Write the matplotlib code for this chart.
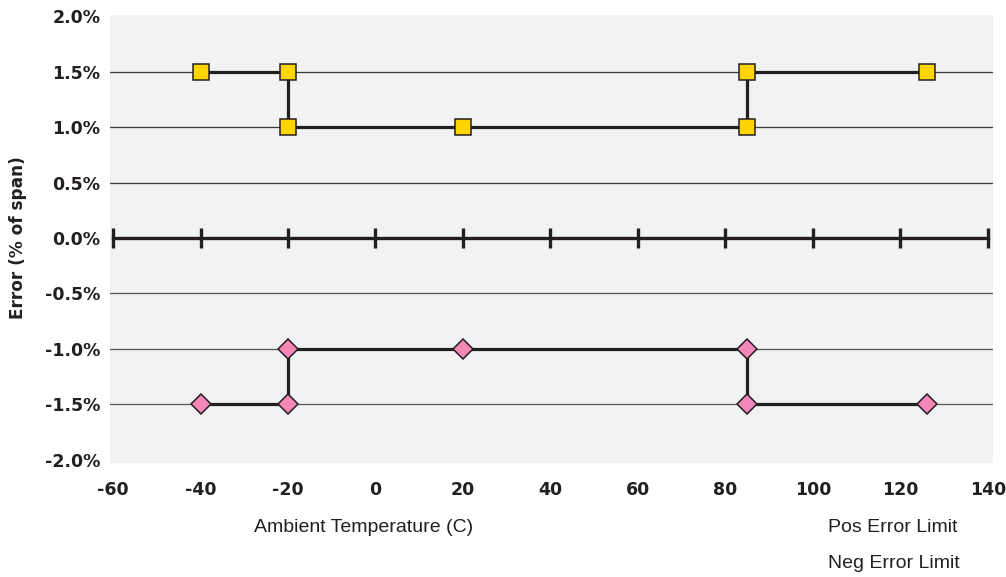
import matplotlib.pyplot as plt

plt.rcParams['axes.unicode_minus'] = False

# temperature (C) vs error limit (% of span)
pos_temp = [-40, -20, -20, 20, 85, 85, 126]
pos_err = [1.5, 1.5, 1.0, 1.0, 1.0, 1.5, 1.5]
neg_temp = [-40, -20, -20, 20, 85, 85, 126]
neg_err = [-1.5, -1.5, -1.0, -1.0, -1.0, -1.5, -1.5]

x_ticks = [-60, -40, -20, 0, 20, 40, 60, 80, 100, 120, 140]
y_ticks = [-2.0, -1.5, -1.0, -0.5, 0.0, 0.5, 1.0, 1.5, 2.0]
y_labels = ['%.1f%%' % v for v in y_ticks]

dark = '#231f20'
plain = ['Liberation Sans', 'DejaVu Sans']

fig = plt.figure(figsize=(10.06, 5.77), dpi=100)
ax = fig.add_axes([110/1006, 1-463/577, 883/1006, 448/577])
ax.set_facecolor('#f1f2f4')
for s in ax.spines.values():
    s.set_visible(False)

# horizontal guide lines
for v in y_ticks:
    if v != 0.0 and abs(v) < 2.0:
        ax.axhline(v, color='#3a3a3a' if v > 0 else '#555555', lw=0.9, zorder=1)

# zero line with tick marks
ax.plot([x_ticks[0], x_ticks[-1]], [0, 0], color=dark, lw=2.4, zorder=2)
ax.plot(x_ticks, [0]*len(x_ticks), ls='none', marker='|', ms=14.5, mew=2.4,
        color=dark, zorder=2)

ax.plot(pos_temp, pos_err, color=dark, lw=2.3, marker='s', ms=12,
        mfc='#ffd400', mec=dark, mew=1.1, zorder=3)
ax.plot(neg_temp, neg_err, color=dark, lw=2.3, marker='D', ms=10.5,
        mfc='#f287b8', mec=dark, mew=1.1, zorder=3)

ax.set_xlim(-60.7, 141.2)
ax.set_ylim(-2.03, 2.012)
ax.set_xticks(x_ticks)
ax.set_yticks(y_ticks)
ax.set_yticklabels(y_labels)
ax.tick_params(length=0, labelsize=12.5, colors='#231f20')
ax.tick_params(axis='x', pad=13)
ax.tick_params(axis='y', pad=7)
for lab in ax.get_xticklabels() + ax.get_yticklabels():
    lab.set_fontweight('bold')

fig.text(18/1006, 1-238/577, 'Error (% of span)', rotation=90, ha='center',
         va='center', fontsize=12.2, fontweight='bold', color=dark)
fig.text(364/1006, 1-528/577, 'Ambient Temperature (C)', ha='center',
         va='center', fontsize=14, family=plain, color=dark)
fig.text(828/1006, 1-527/577, 'Pos Error Limit', ha='left', va='center',
         fontsize=14, family=plain, color=dark)
fig.text(828/1006, 1-564/577, 'Neg Error Limit', ha='left', va='center',
         fontsize=14, family=plain, color=dark)

fig.savefig('out.png', dpi=100)
